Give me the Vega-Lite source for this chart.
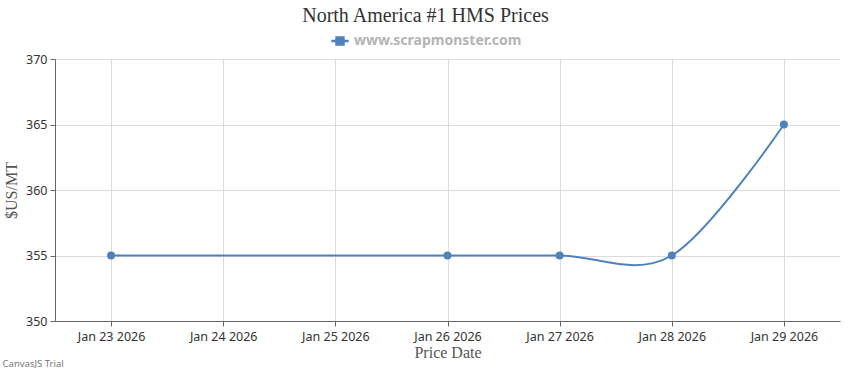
{
  "$schema": "https://vega.github.io/schema/vega-lite/v6.json",
  "padding": {"left": 2, "top": 6, "right": 10, "bottom": 2},
  "background": "white",
  "title": {
    "text": "CanvasJS Trial",
    "orient": "bottom",
    "anchor": "start",
    "font": "Noto Sans",
    "fontSize": 9.5,
    "fontWeight": "normal",
    "color": "#777",
    "offset": -2,
    "dx": -1
  },
  "config": {
    "view": {"stroke": null},
    "axis": {
      "labelFont": "Noto Sans",
      "labelFontSize": 12.5,
      "labelColor": "#333",
      "titleFont": "Liberation Serif",
      "titleFontSize": 16,
      "titleFontWeight": "normal",
      "titleColor": "#555",
      "gridColor": "#dcdcdc",
      "domainColor": "#666",
      "tickColor": "#666",
      "tickSize": 5
    }
  },
  "vconcat": [
    {
      "width": 785,
      "height": 262,
      "title": {
        "text": "North America #1 HMS Prices",
        "font": "Liberation Serif",
        "fontSize": 20,
        "fontWeight": "normal",
        "color": "#333",
        "anchor": "middle",
        "dx": -22,
        "offset": 27
      },
      "data": {
        "values": [
          {"date": "2026-01-23", "price": 355, "series": "www.scrapmonster.com"},
          {"date": "2026-01-26", "price": 355, "series": "www.scrapmonster.com"},
          {"date": "2026-01-27", "price": 355, "series": "www.scrapmonster.com"},
          {"date": "2026-01-28", "price": 355, "series": "www.scrapmonster.com"},
          {"date": "2026-01-29", "price": 365, "series": "www.scrapmonster.com"}
        ]
      },
      "encoding": {
        "x": {
          "field": "date",
          "type": "temporal",
          "title": "Price Date",
          "scale": {"type": "utc", "domain": ["2026-01-22T12:00:00Z", "2026-01-29T12:00:00Z"]},
          "axis": {
            "format": "%b %d %Y",
            "tickCount": {"interval": "day", "step": 1},
            "labelPadding": 4,
            "titlePadding": 2,
            "labelFlush": false,
            "labelOverlap": false
          }
        },
        "y": {
          "field": "price",
          "type": "quantitative",
          "title": "$US/MT",
          "scale": {"domain": [350, 370], "nice": false, "zero": false},
          "axis": {"values": [350, 355, 360, 365, 370], "labelPadding": 3, "titlePadding": 6}
        },
        "color": {
          "field": "series",
          "type": "nominal",
          "scale": {"range": ["#4f81bc"]},
          "legend": {
            "title": null,
            "orient": "none",
            "legendX": 275,
            "legendY": -28,
            "symbolType": "M-1,0H1M-0.4,-0.4H0.4V0.4H-0.4Z",
            "symbolSize": 300,
            "symbolStrokeWidth": 2.5,
            "symbolFillColor": "#4f81bc",
            "labelFont": "Noto Sans",
            "labelFontSize": 14,
            "labelFontWeight": "bold",
            "labelColor": "#b4b4b4",
            "labelOffset": 4,
            "labelLimit": 400
          }
        }
      },
      "layer": [
        {"mark": {"type": "line", "interpolate": "cardinal", "strokeWidth": 2}},
        {"mark": {"type": "point", "filled": true, "opacity": 1, "size": 64, "shape": "circle"}}
      ]
    }
  ]
}
